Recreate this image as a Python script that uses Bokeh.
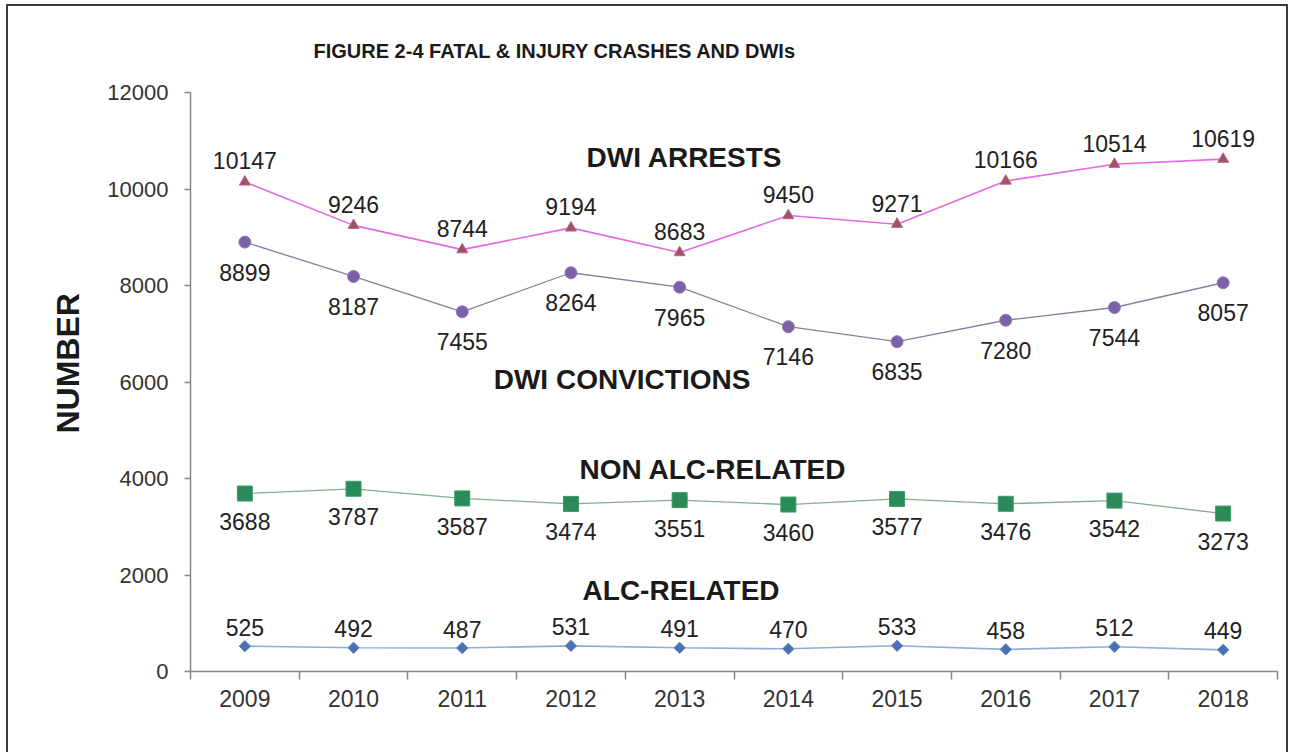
import math
from bokeh.plotting import figure
from bokeh.models import Range1d, FixedTicker, Label, Title
from bokeh.core.properties import value
from bokeh.embed import file_html
from bokeh.resources import INLINE

years = ["2009", "2010", "2011", "2012", "2013", "2014", "2015", "2016", "2017", "2018"]
dwi_arrests = [10147, 9246, 8744, 9194, 8683, 9450, 9271, 10166, 10514, 10619]
dwi_convictions = [8899, 8187, 7455, 8264, 7965, 7146, 6835, 7280, 7544, 8057]
non_alc_related = [3688, 3787, 3587, 3474, 3551, 3460, 3577, 3476, 3542, 3273]
alc_related = [525, 492, 487, 531, 491, 470, 533, 458, 512, 449]
y_ticks = [0, 2000, 4000, 6000, 8000, 10000, 12000]

xs = [i + 0.5 for i in range(len(years))]

FONT = "Liberation Sans"

p = figure(width=1282, height=748, output_backend="svg", toolbar_location=None,
           x_range=Range1d(0, len(years)), y_range=Range1d(0, 12000),
           min_border_left=182, min_border_right=13, min_border_top=86, min_border_bottom=83,
           styles={"margin-left": "6px", "margin-top": "4px",
                   "border-top": "2px solid #3c3c3c", "border-left": "2px solid #3c3c3c",
                   "border-right": "2px solid #3c3c3c"})
p.background_fill_color = "white"
p.border_fill_color = "white"
p.outline_line_color = None
p.xgrid.visible = False
p.ygrid.visible = False

# title
t = Title(text="FIGURE 2-4 FATAL  & INJURY CRASHES AND DWIs", align="left", offset=123,
          text_font=FONT, text_font_size="20px", text_font_style="bold",
          text_color="#1a1a1a", standoff=61)
p.add_layout(t, "above")

# x axis
xa = p.xaxis[0]
xa.ticker = FixedTicker(ticks=xs, minor_ticks=list(range(len(years) + 1)))
xa.major_label_overrides = {x: y for x, y in zip(xs, years)}
xa.major_tick_line_color = None
xa.major_tick_out = 0
xa.major_tick_in = 0
xa.minor_tick_line_color = "#868686"
xa.minor_tick_line_width = 1.5
xa.minor_tick_out = 8
xa.minor_tick_in = 0
xa.axis_line_color = "#868686"
xa.axis_line_width = 1.5
xa.major_label_standoff = 10
xa.major_label_text_font = FONT
xa.major_label_text_font_size = "23px"
xa.major_label_text_color = "#333333"

# y axis
ya = p.yaxis[0]
ya.ticker = FixedTicker(ticks=y_ticks)
ya.minor_tick_line_color = None
ya.major_tick_line_color = "#868686"
ya.major_tick_line_width = 1.5
ya.major_tick_out = 6
ya.major_tick_in = 0
ya.axis_line_color = "#868686"
ya.axis_line_width = 1.5
ya.major_label_standoff = 16
ya.major_label_text_font = FONT
ya.major_label_text_font_size = "22px"
ya.major_label_text_color = "#333333"

# y axis title, placed off-centre as in the original
yt = Title(text="NUMBER", align="left", offset=238, text_font=FONT, text_font_size="32px",
           text_font_style="bold", text_color="#1a1a1a", standoff=38)
p.add_layout(yt, "left")

LBL = dict(text_align="center", text_baseline="middle", text_font=value(FONT),
           text_font_size="23px", text_color="#222222")

# series
p.line(xs, dwi_arrests, line_color="#E36AE3", line_width=1.6)
p.scatter(xs, dwi_arrests, marker="triangle", size=11, fill_color="#A05068", line_color="#B86880")
p.text(xs, dwi_arrests, text=[str(v) for v in dwi_arrests], y_offset=-21, **LBL)

p.line(xs, dwi_convictions, line_color="#8A7E9E", line_width=1.3)
p.scatter(xs, dwi_convictions, marker="circle", size=12, fill_color="#7B62A6", line_color="#8E78B8")
p.text(xs, dwi_convictions, text=[str(v) for v in dwi_convictions], y_offset=30, **LBL)

p.line(xs, non_alc_related, line_color="#80AE8E", line_width=1.3)
p.scatter(xs, non_alc_related, marker="square", size=15, fill_color="#2A8A58", line_color="#3A9A68")
p.text(xs, non_alc_related, text=[str(v) for v in non_alc_related], y_offset=28, **LBL)

p.line(xs, alc_related, line_color="#8EAED6", line_width=1.6)
p.scatter(xs, alc_related, marker="square", angle=math.pi / 4, size=8,
          fill_color="#4A72B2", line_color="#5A82C2")
p.text(xs, alc_related, text=[str(v) for v in alc_related], y_offset=-19, **LBL)

# series names
for txt, lx, ly in [("DWI ARRESTS", 4.545, 10653), ("DWI CONVICTIONS", 3.97, 6052),
                    ("NON ALC-RELATED", 4.807, 4187), ("ALC-RELATED", 4.513, 1679)]:
    p.add_layout(Label(x=lx, y=ly, text=txt, text_align="center", text_baseline="middle",
                       text_font=FONT, text_font_size="28px", text_font_style="bold",
                       text_color="#1a1a1a"))

open("out.html", "w").write(file_html(p, INLINE))
